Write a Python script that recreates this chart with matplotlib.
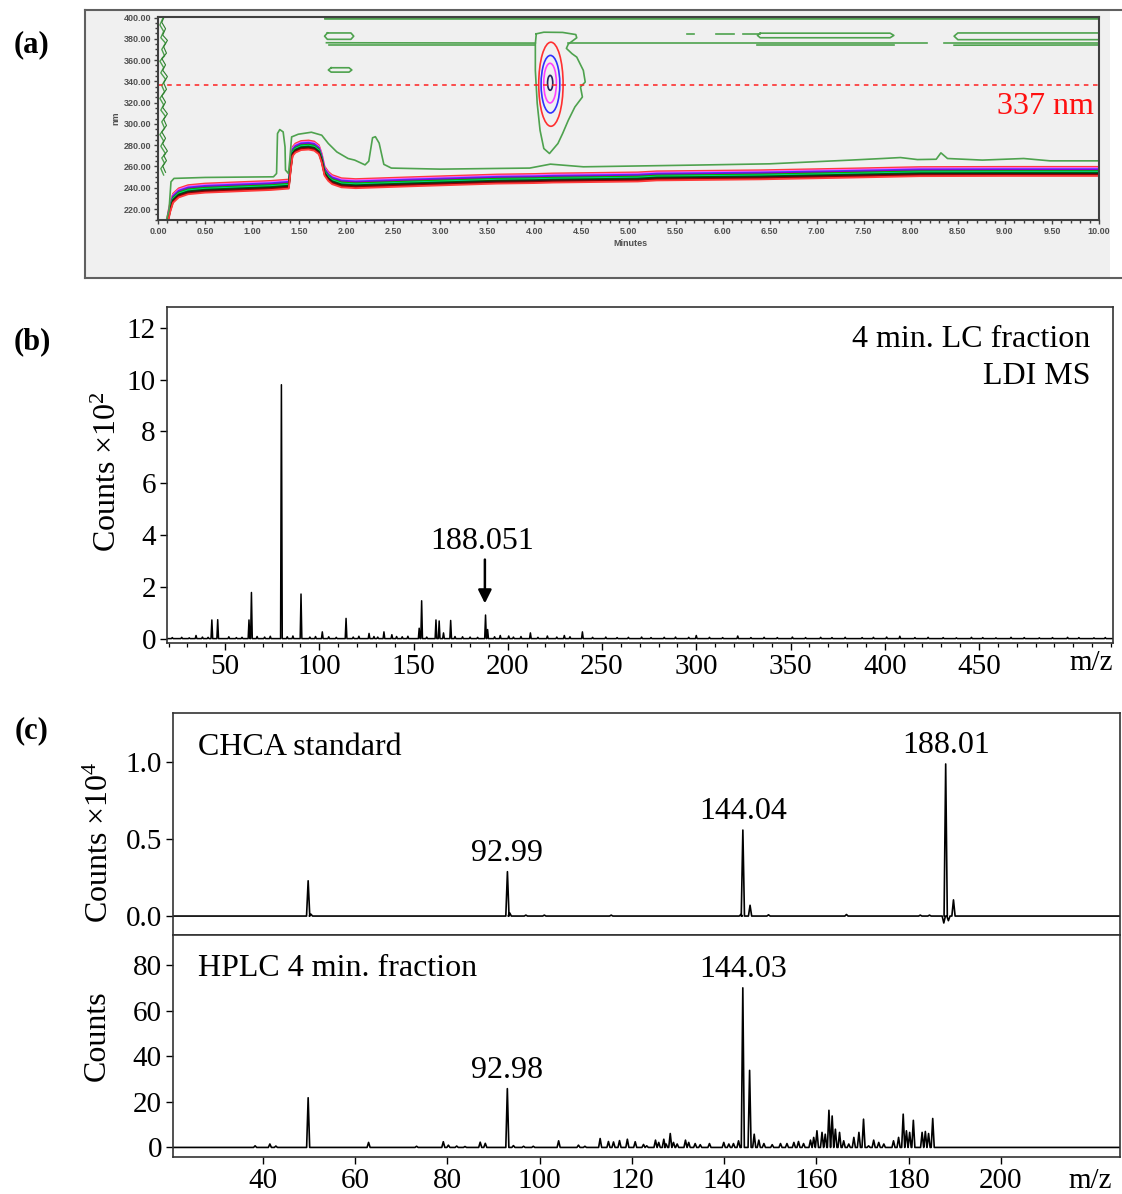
import numpy as np
import matplotlib
matplotlib.use("Agg")
import matplotlib.pyplot as plt
from matplotlib.patches import Rectangle, Ellipse
from matplotlib.ticker import MultipleLocator, FixedLocator

plt.rcParams['font.family'] = ['Liberation Serif', 'DejaVu Serif']
plt.rcParams['mathtext.fontset'] = 'custom'
plt.rcParams['mathtext.rm'] = 'Liberation Serif'
plt.rcParams['mathtext.it'] = 'Liberation Serif:italic'

# ---------------- (a) LC-DAD contour map: minutes vs nm ----------------
# upper edge of the solvent/baseline absorbance band (outermost red contour)
BAND_T = [0.095, 0.11, 0.13, 0.16, 0.22, 0.32, 0.50, 0.86, 1.20, 1.39, 1.41, 1.43,
          1.46, 1.52, 1.60, 1.66, 1.71, 1.74, 1.77, 1.81, 1.85, 1.95, 2.10, 2.70,
          3.60, 4.00, 4.20, 5.10, 5.30, 6.40, 7.40, 8.10, 9.00, 10.00]
BAND_NM = [209.7, 218, 226, 234.5, 239.5, 242.5, 244, 245.3, 246.5, 247.8, 265, 278.4,
           281.6, 284, 284.5, 283.5, 280, 272, 260, 255, 252, 249, 248.2, 250,
           252.5, 253, 253.5, 254.5, 255.5, 256.5, 258.2, 259.5, 259.7, 259.7]
# spacing (nm) of the successive contour levels below that edge
BAND_LEVEL_SHIFT = [0, -1.2, -2.2, -3.0, -4.0, -5.0, -5.8, -6.6, -7.6, -8.6]
BAND_COLORS = ['#ff3b3b', '#ff55ff', '#4040ff', '#8a00d0', '#00b000',
               '#00d890', '#006000', '#202020', '#900000', '#ff3b3b']

# lowest contour level around the baseline region
LOW_T = [0.09, 0.117, 0.138, 0.17, 0.50, 1.227, 1.26, 1.27, 1.294, 1.33, 1.35, 1.355,
         1.386, 1.40, 1.42, 1.49, 1.63, 1.74, 1.81, 1.90, 2.02, 2.09, 2.20, 2.24,
         2.28, 2.31, 2.35, 2.40, 2.48, 3.00, 3.64, 3.95, 4.17, 4.52, 5.70, 6.50,
         7.36, 7.70, 7.89, 8.07, 8.27, 8.32, 8.39, 8.76, 9.20, 9.48, 10.0]
LOW_NM = [209.7, 219, 245.6, 248.8, 249.7, 250.3, 253.4, 291, 294.7, 292.5, 278.4, 256.6,
          253.4, 266, 287.8, 290.3, 292.2, 289.4, 281.6, 273.7, 267.5, 266, 261.5, 265,
          287, 288, 282, 262, 258.5, 257.5, 258.2, 258.5, 262.2, 259.7, 261.3, 262.5,
          266, 267.5, 268.4, 266.5, 266.8, 272.8, 267.5, 266, 267.5, 265.3, 265.3]

# CHCA peak at ~4.16 min: outer (lowest) level contour
PEAK_OUTER_T = [4.02, 4.10, 4.30, 4.44, 4.45, 4.36, 4.34, 4.40, 4.45, 4.52, 4.54, 4.49,
                4.51, 4.43, 4.36, 4.30, 4.25, 4.16, 4.10, 4.06, 4.03, 4.01, 4.01, 4.02]
PEAK_OUTER_NM = [384.7, 386.2, 386.0, 384.0, 381.0, 375.0, 371.0, 366.0, 362.8, 350.3,
                 339.4, 334.7, 325.3, 315.9, 303.4, 291.0, 281.6, 272.2, 276.9, 294.0,
                 319.1, 350.3, 375.3, 384.7]
# inner rings of the CHCA peak: time extent and wavelength extent
RING_T_LEFT = [4.046, 4.071, 4.099, 4.140]
RING_T_RIGHT = [4.305, 4.270, 4.234, 4.195]
RING_NM_LOW = [297.8, 310.3, 319.7, 331.6]
RING_NM_HIGH = [376.8, 364.4, 357.0, 345.6]
RING_COLORS = ['#ff3030', '#3030ff', '#ff40ff', '#202060']

# low-level contours near the top of the wavelength range
UPPER_LINES = [
    [(1.77, 399.6), (10.0, 399.6)],
    [(1.77, 398.2), (10.0, 398.2)],
    [(1.79, 376.3), (4.01, 376.0)],
    [(1.82, 374.3), (4.01, 374.3)],
    [(4.36, 375.8), (8.17, 375.8)],
    [(8.35, 376.0), (10.0, 376.0)],
    [(6.37, 373.8), (7.82, 373.8)],
    [(8.46, 374.0), (10.0, 374.2)],
    [(1.80, 385.5), (2.05, 385.5), (2.08, 382.5), (2.05, 379.5), (1.80, 379.5),
     (1.77, 382.5), (1.80, 385.5)],
    [(6.40, 385.3), (7.78, 385.3), (7.82, 383.2), (7.78, 381.0), (6.40, 381.0),
     (6.37, 383.2), (6.40, 385.3)],
    [(10.0, 385.5), (8.50, 385.5), (8.46, 382.5), (8.50, 379.2), (10.0, 379.2)],
    [(1.84, 352.8), (2.03, 352.8), (2.06, 350.7), (2.03, 348.7), (1.84, 348.7),
     (1.81, 350.7), (1.84, 352.8)],
    [(5.62, 384.2), (5.70, 384.2)],
    [(5.93, 384.2), (6.12, 384.2)],
    [(6.22, 384.2), (6.40, 384.2)],
]
# ragged low-level contour along the injection front
FRONT_T = [0.06, 0.03, 0.07, 0.04, 0.08, 0.03, 0.06, 0.02, 0.07, 0.04, 0.08, 0.03, 0.06,
           0.02, 0.07, 0.04, 0.08, 0.03, 0.06, 0.02, 0.07, 0.04, 0.08, 0.03, 0.06, 0.02, 0.05]
FRONT_NM = [252, 258, 263, 268, 272, 279, 284, 290, 296, 302, 307, 313, 318,
            324, 330, 336, 342, 348, 353, 359, 364, 370, 376, 381, 387, 393, 399]
SELECTED_NM = 337

# ---------------- (b) LDI MS of the 4 min LC fraction ----------------
B_MZ = [34.6, 43.0, 46.1, 62.7, 64.0, 79.9, 90.3, 101.6, 114.2, 126.4, 134.3, 138.5,
        153.0, 154.3, 161.9, 163.6, 165.9, 169.7, 188.2, 189.3, 196.0, 200.5, 212.0,
        221.0, 230.0, 239.6]
B_COUNTS = [0.12, 0.72, 0.73, 0.72, 1.78, 9.8, 1.72, 0.26, 0.78, 0.20, 0.26, 0.15,
            0.40, 1.46, 0.72, 0.68, 0.22, 0.70, 0.91, 0.35, 0.12, 0.10, 0.22,
            0.10, 0.12, 0.26]
B_NOISE_MZ = [22, 27, 31, 38, 41, 52, 56, 59, 67, 71, 74, 83, 86, 95, 98, 105, 109, 118,
              121, 129, 131, 141, 144, 147, 157, 172, 176, 180, 184, 193, 203, 207, 216,
              226, 233, 245, 252, 258, 264, 271, 276, 283, 289, 296, 300, 307, 314, 322,
              329, 336, 343, 351, 358, 366, 372, 379, 388, 394, 401, 408, 416, 423, 431,
              438, 446, 452, 459, 467, 474, 482, 489, 497, 503, 511, 517]
B_NOISE_COUNTS = [0.04, 0.05, 0.03, 0.06, 0.05, 0.07, 0.04, 0.05, 0.08, 0.06, 0.09, 0.07,
                  0.10, 0.06, 0.08, 0.07, 0.05, 0.06, 0.09, 0.08, 0.06, 0.08, 0.07, 0.09,
                  0.06, 0.08, 0.07, 0.06, 0.05, 0.07, 0.06, 0.08, 0.05, 0.06, 0.07, 0.05,
                  0.06, 0.04, 0.05, 0.06, 0.04, 0.05, 0.06, 0.05, 0.12, 0.05, 0.04, 0.10,
                  0.04, 0.05, 0.04, 0.06, 0.04, 0.05, 0.04, 0.05, 0.04, 0.05, 0.06, 0.09,
                  0.04, 0.05, 0.04, 0.03, 0.05, 0.04, 0.03, 0.05, 0.04, 0.03, 0.04, 0.05,
                  0.04, 0.03, 0.04]
B_MARKED_MZ = 188.051
B_MARKED_COUNTS = 0.91

# ---------------- (c) CHCA standard vs HPLC 4 min fraction ----------------
CT_MZ = [49.8, 50.4, 93.0, 93.5, 97.0, 101.0, 115.5, 143.6, 144.04, 145.6, 149.6,
         166.5, 182.5, 184.5, 187.6, 188.01, 188.6, 189.7]
CT_COUNTS = [0.229, 0.012, 0.288, 0.02, 0.006, 0.006, 0.006, 0.01, 0.558, 0.07, 0.008,
             0.01, 0.006, 0.006, -0.045, 0.987, -0.03, 0.105]
CB_MZ = [38.3, 41.5, 42.8, 49.8, 62.9, 73.3, 79.1, 80.2, 82.0, 83.8, 87.1, 88.2, 92.98,
         94.3, 96.5, 98.6, 104.1, 108.4, 109.8, 113.1, 114.9, 116.0, 117.3, 119.0, 120.7,
         122.5, 123.2, 125.1, 125.8, 126.9, 127.4, 128.3, 129.0, 129.8, 131.6, 132.3,
         133.7, 134.8, 136.8, 139.9, 141.0, 142.0, 143.1, 144.03, 145.5, 146.5, 147.5,
         148.6, 150.4, 152.2, 153.6, 155.1, 156.1, 157.2, 158.7, 159.4, 160.1, 161.2,
         161.9, 162.7, 163.4, 164.1, 165.0, 165.9, 167.0, 168.1, 169.2, 170.2, 171.3,
         172.4, 173.5, 174.6, 176.7, 177.8, 178.8, 179.5, 180.2, 181.0, 182.9, 183.6,
         184.3, 185.2]
CB_COUNTS = [0.7, 1.5, 0.6, 21.8, 2.2, 0.5, 2.5, 1.0, 0.6, 0.4, 2.3, 1.8, 25.8,
             0.8, 0.5, 0.5, 2.9, 1.0, 0.5, 3.9, 2.6, 2.4, 3.0, 3.6, 2.5,
             1.3, 0.7, 3.2, 2.2, 3.6, 1.5, 6.1, 2.2, 1.5, 3.2, 2.2,
             1.7, 1.2, 1.7, 2.2, 1.5, 1.7, 2.9, 70.0, 33.8, 5.8, 3.2,
             1.7, 1.2, 1.7, 1.7, 2.2, 2.6, 1.7, 3.2, 4.4, 7.3, 6.6,
             5.8, 16.3, 13.8, 8.0, 6.6, 2.9, 1.5, 4.4, 6.6, 12.4, 0.7,
             3.2, 2.2, 1.5, 2.9, 4.4, 14.6, 7.3, 6.6, 11.9, 6.6, 7.0,
             6.1, 12.7]
CT_LABELS = [(92.99, 0.288), (144.04, 0.558), (188.01, 0.987)]
CB_LABELS = [(92.98, 25.8), (144.03, 70.0)]


W, H = 1122, 1194
fig = plt.figure(figsize=(W / 100, H / 100), dpi=100)


def rect(l, t, r, b):
    return [l / W, 1 - b / H, (r - l) / W, (b - t) / H]


def fx(x):
    return x / W


def fy(y):
    return 1 - y / H


def stick_profile(mz, counts, half_width, lo, hi):
    pts = [(lo, 0.0)]
    for m, c in sorted(zip(mz, counts)):
        pts += [(m - half_width, 0.0), (m, c), (m + half_width, 0.0)]
    pts.append((hi, 0.0))
    xs, ys = zip(*pts)
    return np.array(xs), np.array(ys)


def serif_axes(ax):
    for s in ax.spines.values():
        s.set_color('#333333')
        s.set_linewidth(1.2)
    ax.tick_params(direction='out', length=5, width=1.0, labelsize=21,
                   colors='black', pad=3)


# ---------------- panel (a) ----------------
fig.patches.append(Rectangle((fx(85), fy(278)), fx(1110) - fx(85), fy(10) - fy(278),
                             transform=fig.transFigure, facecolor='#f0f0f0',
                             edgecolor='none', zorder=-5))
for (x0, y0, x1, y1) in [(85, 10, 1121, 10), (85, 278, 1121, 278), (85, 10, 85, 278)]:
    fig.add_artist(plt.Line2D([fx(x0), fx(x1)], [fy(y0), fy(y1)],
                              transform=fig.transFigure, color='#606060', lw=1.5,
                              zorder=-4))

axa = fig.add_axes(rect(158, 17, 1099, 220))
axa.set_facecolor('#f0f0f0')
axa.set_xlim(0, 10)
axa.set_ylim(209.7, 400.5)

green = '#4ea24e'
for shift, col in zip(BAND_LEVEL_SHIFT, BAND_COLORS):
    axa.plot(BAND_T, np.array(BAND_NM) + shift, color=col, lw=1.3, solid_capstyle='butt')
axa.plot(LOW_T, LOW_NM, color=green, lw=1.2)
axa.plot(PEAK_OUTER_T, PEAK_OUTER_NM, color=green, lw=1.2)
for tl, tr, lo, hi, col in zip(RING_T_LEFT, RING_T_RIGHT, RING_NM_LOW, RING_NM_HIGH, RING_COLORS):
    axa.add_patch(Ellipse(((tl + tr) / 2, (lo + hi) / 2), tr - tl, hi - lo,
                          facecolor='none', edgecolor=col, lw=1.2))
for i, line in enumerate(UPPER_LINES):
    ts, ns = zip(*line)
    axa.plot(ts, ns, color='#2e6e2e' if i == 0 else green, lw=1.2)
axa.plot(FRONT_T, FRONT_NM, color=green, lw=1.0)
axa.plot(np.array(FRONT_T) + 0.02, np.array(FRONT_NM) + 2.5, color='#2e7e2e', lw=0.8)
axa.axhline(SELECTED_NM, color='#ff2020', lw=1.1, ls=(0, (3, 3)))
axa.text(9.95, 316, f'{SELECTED_NM} nm', color='#ff1010', fontsize=23,
         ha='right', va='center')

axa.xaxis.set_major_locator(MultipleLocator(0.5))
axa.xaxis.set_minor_locator(MultipleLocator(0.1))
axa.yaxis.set_major_locator(FixedLocator(np.arange(220, 401, 20)))
axa.yaxis.set_minor_locator(MultipleLocator(5))
axa.xaxis.set_major_formatter(plt.FuncFormatter(lambda v, p: f'{v:.2f}'))
axa.yaxis.set_major_formatter(plt.FuncFormatter(lambda v, p: f'{v:.2f}'))
for s in axa.spines.values():
    s.set_color('#404040')
    s.set_linewidth(1.5)
axa.tick_params(which='both', direction='out', colors='#404040', width=1.0)
axa.tick_params(which='major', length=3, pad=2)
axa.tick_params(which='minor', length=2)
for lab in axa.get_xticklabels() + axa.get_yticklabels():
    lab.set_fontfamily(['Liberation Sans', 'DejaVu Sans'])
    lab.set_fontsize(6.5)
    lab.set_fontweight('bold')
    lab.set_color('#505050')
fig.text(fx(630), fy(244), 'Minutes', ha='center', va='center', fontsize=6.5,
         family=['Liberation Sans'], fontweight='bold', color='#505050')
fig.text(fx(116), fy(118), 'nm', ha='center', va='center', fontsize=6.5, rotation=90,
         family=['Liberation Sans'], fontweight='bold', color='#505050')

# ---------------- panel (b) ----------------
axb = fig.add_axes(rect(167, 307, 1113, 643))
bx, by = stick_profile(B_MZ + B_NOISE_MZ, B_COUNTS + B_NOISE_COUNTS, 0.45, 19.2, 521.1)
axb.plot(bx, by, color='black', lw=1.1)
axb.set_xlim(19.2, 521.1)
axb.set_ylim(-0.17, 12.8)
axb.xaxis.set_major_locator(FixedLocator(np.arange(50, 451, 50)))
axb.xaxis.set_minor_locator(MultipleLocator(10))
axb.yaxis.set_major_locator(FixedLocator(np.arange(0, 13, 2)))
serif_axes(axb)
axb.tick_params(which='minor', direction='out', length=3, width=0.9)
fig.text(fx(1091), fy(663), 'm/z', fontsize=21, ha='center', va='center')
axb.text(508.9, 11.56, '4 min. LC fraction', fontsize=23, ha='right', va='center')
axb.text(508.9, 10.1, 'LDI MS', fontsize=23, ha='right', va='center')
axb.annotate('', xy=(B_MARKED_MZ - 0.2, B_MARKED_COUNTS + 0.45),
             xytext=(B_MARKED_MZ - 0.2, 3.05),
             arrowprops=dict(arrowstyle='-|>,head_length=0.8,head_width=0.4',
                             color='black', lw=1.8, shrinkA=0, shrinkB=0))
axb.text(B_MARKED_MZ - 1.8, 3.73, f'{B_MARKED_MZ:.3f}', fontsize=23,
         ha='center', va='center')
fig.text(fx(108), fy(472), 'Counts ×10$^{2}$', rotation=90, fontsize=23,
         ha='center', va='center')

# ---------------- panel (c) ----------------
axt = fig.add_axes(rect(173, 713, 1120, 935))
axl = fig.add_axes(rect(173, 935, 1120, 1157), sharex=axt)
tx, ty = stick_profile(CT_MZ, CT_COUNTS, 0.35, 20.5, 225.8)
lx, ly = stick_profile(CB_MZ, CB_COUNTS, 0.33, 20.5, 225.8)
axt.plot(tx, ty, color='black', lw=1.2)
axl.plot(lx, ly, color='black', lw=1.2)
axt.set_xlim(20.5, 225.8)
axt.set_ylim(-0.123, 1.318)
axl.set_ylim(-4.2, 93.2)
axt.yaxis.set_major_locator(FixedLocator([0.0, 0.5, 1.0]))
axt.yaxis.set_major_formatter(plt.FuncFormatter(lambda v, p: f'{v:.1f}'))
axl.yaxis.set_major_locator(FixedLocator(np.arange(0, 81, 20)))
axl.xaxis.set_major_locator(FixedLocator(np.arange(40, 201, 20)))
serif_axes(axt)
serif_axes(axl)
axt.tick_params(axis='x', bottom=False, labelbottom=False)
for m, c in CT_LABELS:
    axt.text(m, c + 0.12, f'{m:.2f}', fontsize=23, ha='center', va='center')
for m, c in CB_LABELS:
    axl.text(m, c + 8.0, f'{m:.2f}', fontsize=23, ha='center', va='center')
axt.text(25.9, 1.097, 'CHCA standard', fontsize=23, ha='left', va='center')
axl.text(25.9, 78.3, 'HPLC 4 min. fraction', fontsize=23, ha='left', va='center')
fig.text(fx(1090), fy(1181), 'm/z', fontsize=21, ha='center', va='center')
fig.text(fx(100), fy(842), 'Counts ×10$^{4}$', rotation=90, fontsize=23,
         ha='center', va='center')
fig.text(fx(97), fy(1036), 'Counts', rotation=90, fontsize=23,
         ha='center', va='center')

# panel letters
for lab, y in [('(a)', 45), ('(b)', 342), ('(c)', 731)]:
    fig.text(fx(32), fy(y), lab, fontsize=22, fontweight='bold', ha='center', va='center')

fig.savefig('out.png', dpi=100)
